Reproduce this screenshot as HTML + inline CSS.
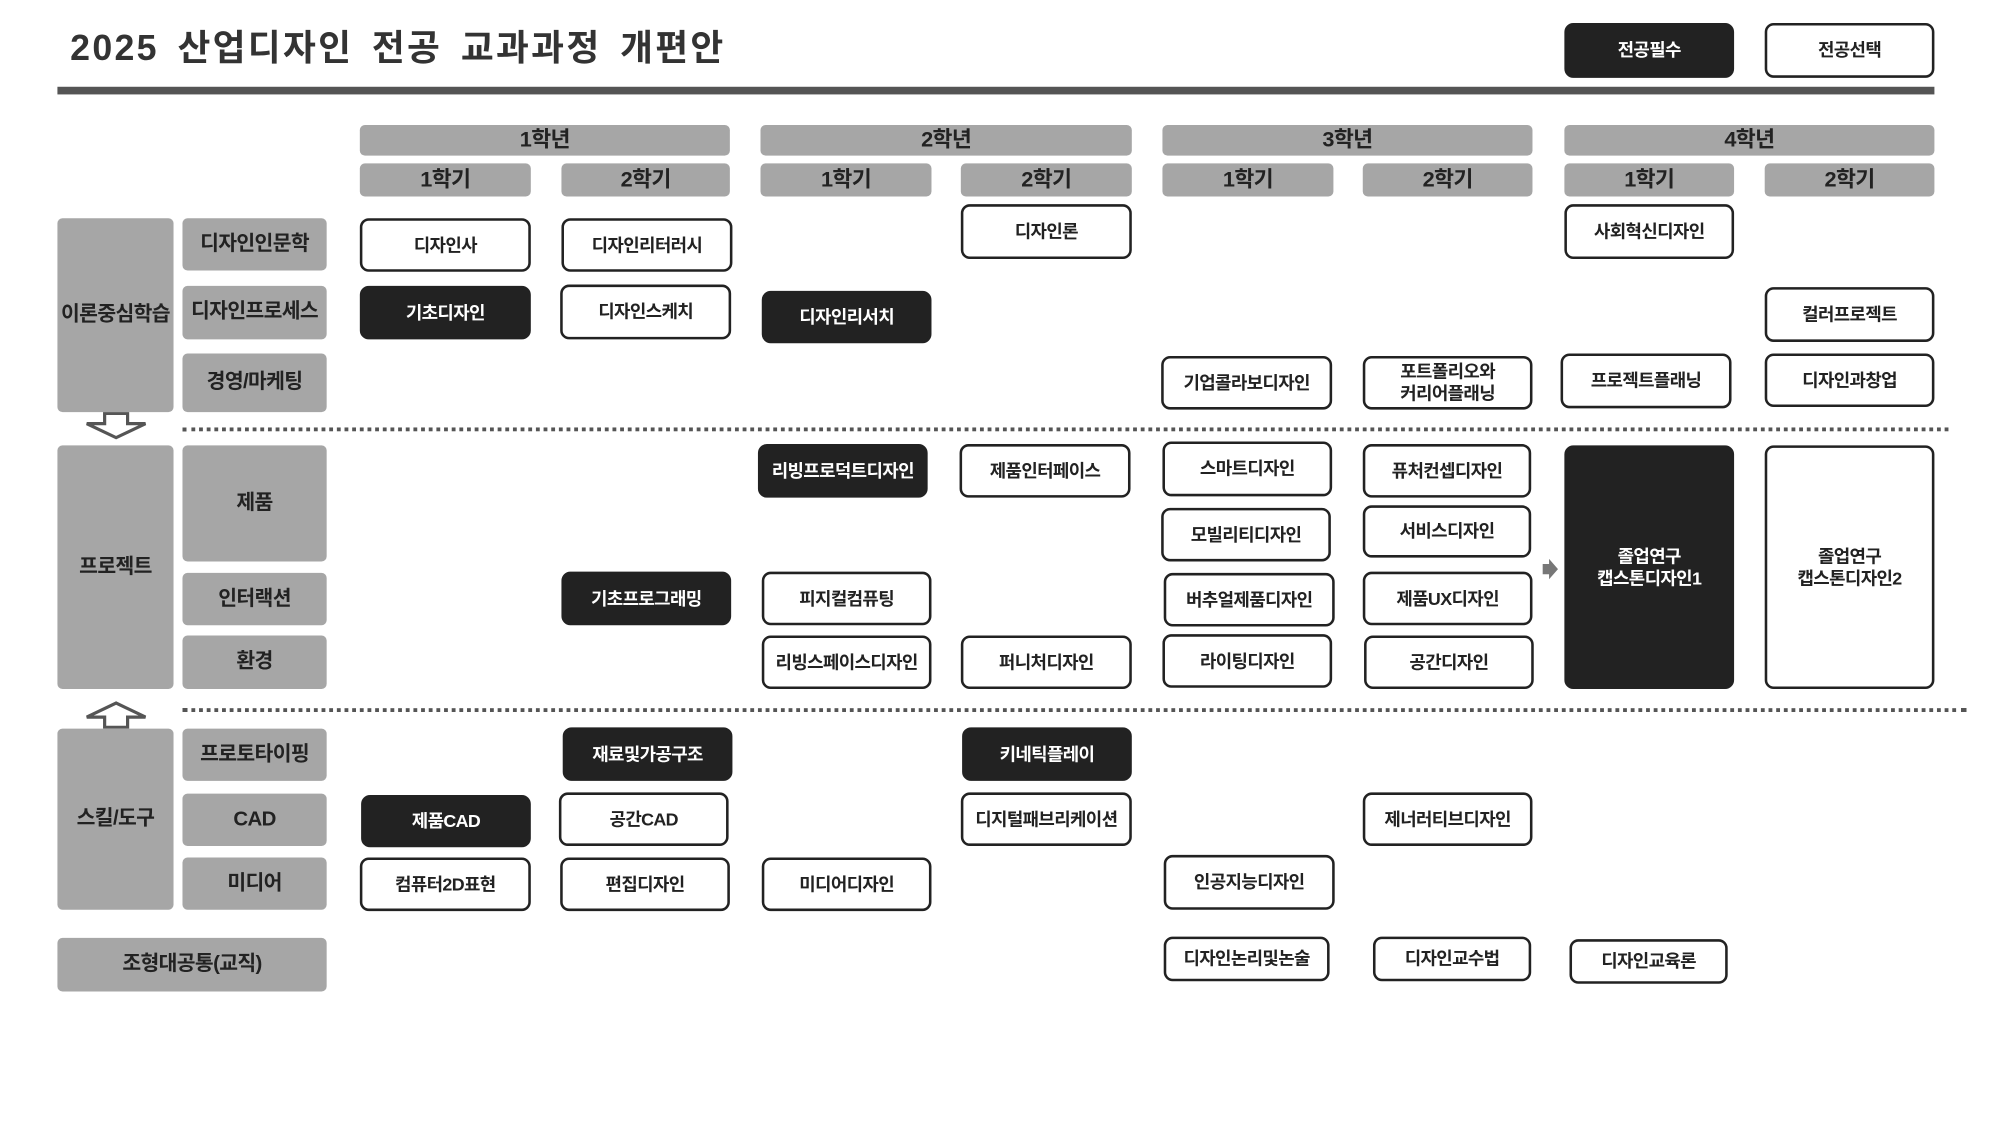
<!DOCTYPE html>
<html><head><meta charset="utf-8"><style>
body{margin:0;background:#fff;overflow:hidden}
#w{width:2000px;height:1125px;position:relative;overflow:hidden;background:#fff}
#c{position:absolute;left:0;top:0;width:1570px;height:882px;transform:scale(1.276);transform-origin:0 0;font-family:"Liberation Sans","Noto Sans CJK KR",sans-serif;font-weight:bold}
.a{position:absolute;box-sizing:border-box;display:flex;align-items:center;justify-content:center;text-align:center;line-height:1.2;letter-spacing:-0.5px}
.g{background:#a6a6a6;color:#222;border-radius:4px;font-size:16px}
.b{background:#222;color:#fff;border-radius:7px;font-size:14px;border:2px solid #222}
.w{background:#fff;color:#222;border:2px solid #222;border-radius:7px;font-size:14px}
.d{position:absolute;height:0;border-top:3px dotted #555}
</style></head><body><div id="w"><div id="c">
<div class="a" style="left:55px;top:18px;height:40px;font-size:28px;color:#333;justify-content:flex-start;letter-spacing:1.8px;word-spacing:5px;white-space:nowrap">2025 산업디자인 전공 교과과정 개편안</div>
<div style="position:absolute;left:45px;top:68px;width:1471px;height:6px;background:#555"></div>
<div class="a b" style="left:1226px;top:18px;width:133px;height:43px">전공필수</div>
<div class="a w" style="left:1383px;top:18px;width:133px;height:43px">전공선택</div>

<div class="a g" style="left:282px;top:98px;width:290px;height:24px;font-size:17px">1학년</div>
<div class="a g" style="left:596px;top:98px;width:291px;height:24px;font-size:17px">2학년</div>
<div class="a g" style="left:911px;top:98px;width:290px;height:24px;font-size:17px">3학년</div>
<div class="a g" style="left:1226px;top:98px;width:290px;height:24px;font-size:17px">4학년</div>
<div class="a g" style="left:282px;top:128px;width:134px;height:26px;font-size:17px">1학기</div>
<div class="a g" style="left:440px;top:128px;width:132px;height:26px;font-size:17px">2학기</div>
<div class="a g" style="left:596px;top:128px;width:134px;height:26px;font-size:17px">1학기</div>
<div class="a g" style="left:753px;top:128px;width:134px;height:26px;font-size:17px">2학기</div>
<div class="a g" style="left:911px;top:128px;width:134px;height:26px;font-size:17px">1학기</div>
<div class="a g" style="left:1068px;top:128px;width:133px;height:26px;font-size:17px">2학기</div>
<div class="a g" style="left:1226px;top:128px;width:133px;height:26px;font-size:17px">1학기</div>
<div class="a g" style="left:1383px;top:128px;width:133px;height:26px;font-size:17px">2학기</div>

<div class="a g" style="left:45px;top:171px;width:91px;height:152px">이론중심학습</div>
<div class="a g" style="left:143px;top:171px;width:113px;height:41px">디자인인문학</div>
<div class="a g" style="left:143px;top:224px;width:113px;height:42px">디자인프로세스</div>
<div class="a g" style="left:143px;top:277px;width:113px;height:46px">경영/마케팅</div>
<svg style="position:absolute;left:64px;top:323px" width="54" height="22"><path d="M18 1 H36 V9 H50 L27 20 L4 9 H18 Z" fill="#fff" stroke="#555" stroke-width="2.5"/></svg>
<div class="d" style="left:143px;top:335px;width:1384px"></div>
<div class="a g" style="left:45px;top:349px;width:91px;height:191px">프로젝트</div>
<div class="a g" style="left:143px;top:349px;width:113px;height:91px">제품</div>
<div class="a g" style="left:143px;top:449px;width:113px;height:41px">인터랙션</div>
<div class="a g" style="left:143px;top:498px;width:113px;height:42px">환경</div>
<div class="d" style="left:143px;top:555px;width:1398px"></div>
<svg style="position:absolute;left:64px;top:549px" width="54" height="22"><path d="M18 21 H36 V13 H50 L27 2 L4 13 H18 Z" fill="#fff" stroke="#555" stroke-width="2.5"/></svg>
<div class="a g" style="left:45px;top:571px;width:91px;height:142px">스킬/도구</div>
<div class="a g" style="left:143px;top:571px;width:113px;height:41px">프로토타이핑</div>
<div class="a g" style="left:143px;top:622px;width:113px;height:41px">CAD</div>
<div class="a g" style="left:143px;top:672px;width:113px;height:41px">미디어</div>
<div class="a g" style="left:45px;top:735px;width:211px;height:42px">조형대공통(교직)</div>

<div class="a w" style="left:282px;top:171px;width:134px;height:42px">디자인사</div>
<div class="a w" style="left:440px;top:171px;width:134px;height:42px">디자인리터러시</div>
<div class="a w" style="left:753px;top:160px;width:134px;height:43px">디자인론</div>
<div class="a w" style="left:1226px;top:160px;width:133px;height:43px">사회혁신디자인</div>
<div class="a b" style="left:282px;top:224px;width:134px;height:42px">기초디자인</div>
<div class="a w" style="left:439px;top:223px;width:134px;height:43px">디자인스케치</div>
<div class="a b" style="left:597px;top:228px;width:133px;height:41px">디자인리서치</div>
<div class="a w" style="left:1383px;top:225px;width:133px;height:43px">컬러프로젝트</div>
<div class="a w" style="left:910px;top:279px;width:134px;height:42px">기업콜라보디자인</div>
<div class="a w" style="left:1068px;top:279px;width:133px;height:42px">포트폴리오와<br>커리어플래닝</div>
<div class="a w" style="left:1223px;top:277px;width:134px;height:43px">프로젝트플래닝</div>
<div class="a w" style="left:1383px;top:277px;width:133px;height:42px">디자인과창업</div>
<div class="a b" style="left:594px;top:348px;width:133px;height:42px">리빙프로덕트디자인</div>
<div class="a w" style="left:752px;top:348px;width:134px;height:42px">제품인터페이스</div>
<div class="a w" style="left:911px;top:346px;width:133px;height:43px">스마트디자인</div>
<div class="a w" style="left:1068px;top:348px;width:132px;height:42px">퓨처컨셉디자인</div>
<div class="a w" style="left:910px;top:398px;width:133px;height:42px">모빌리티디자인</div>
<div class="a w" style="left:1068px;top:396px;width:132px;height:41px">서비스디자인</div>
<div class="a b" style="left:1226px;top:349px;width:133px;height:191px">졸업연구<br>캡스톤디자인1</div>
<div class="a w" style="left:1383px;top:349px;width:133px;height:191px">졸업연구<br>캡스톤디자인2</div>
<svg style="position:absolute;left:1208px;top:437px" width="14" height="18"><path d="M1 5 H6 V1 L13 9 L6 17 V13 H1 Z" fill="#777"/></svg>
<div class="a b" style="left:440px;top:448px;width:133px;height:42px">기초프로그래밍</div>
<div class="a w" style="left:597px;top:448px;width:133px;height:42px">피지컬컴퓨팅</div>
<div class="a w" style="left:912px;top:449px;width:134px;height:42px">버추얼제품디자인</div>
<div class="a w" style="left:1068px;top:448px;width:133px;height:42px">제품UX디자인</div>
<div class="a w" style="left:597px;top:498px;width:133px;height:42px">리빙스페이스디자인</div>
<div class="a w" style="left:753px;top:498px;width:134px;height:42px">퍼니처디자인</div>
<div class="a w" style="left:911px;top:497px;width:133px;height:42px">라이팅디자인</div>
<div class="a w" style="left:1069px;top:498px;width:133px;height:42px">공간디자인</div>
<div class="a b" style="left:441px;top:570px;width:133px;height:42px">재료및가공구조</div>
<div class="a b" style="left:754px;top:570px;width:133px;height:42px">키네틱플레이</div>
<div class="a b" style="left:283px;top:623px;width:133px;height:41px">제품CAD</div>
<div class="a w" style="left:438px;top:621px;width:133px;height:42px">공간CAD</div>
<div class="a w" style="left:753px;top:621px;width:134px;height:42px">디지털패브리케이션</div>
<div class="a w" style="left:1068px;top:621px;width:133px;height:42px">제너러티브디자인</div>
<div class="a w" style="left:282px;top:672px;width:134px;height:42px">컴퓨터2D표현</div>
<div class="a w" style="left:439px;top:672px;width:133px;height:42px">편집디자인</div>
<div class="a w" style="left:597px;top:672px;width:133px;height:42px">미디어디자인</div>
<div class="a w" style="left:912px;top:670px;width:134px;height:43px">인공지능디자인</div>
<div class="a w" style="left:912px;top:734px;width:130px;height:35px">디자인논리및논술</div>
<div class="a w" style="left:1076px;top:734px;width:124px;height:35px">디자인교수법</div>
<div class="a w" style="left:1230px;top:736px;width:124px;height:35px">디자인교육론</div>
</div></div></body></html>
